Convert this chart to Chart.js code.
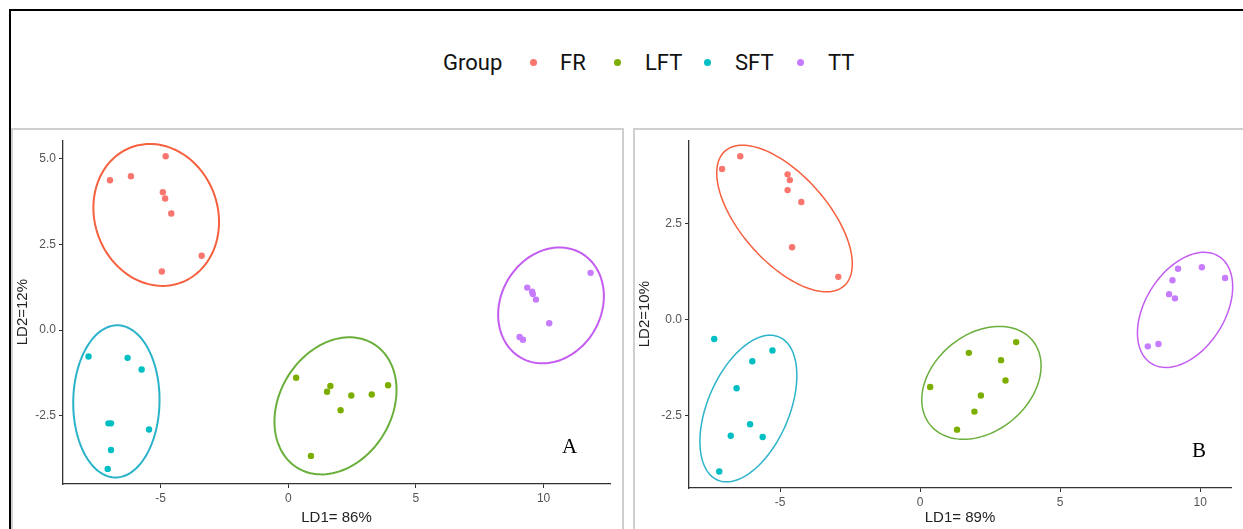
<!DOCTYPE html>
<html>
<head>
<meta charset="utf-8">
<script src="https://cdn.jsdelivr.net/npm/chart.js@4.4.1/dist/chart.umd.min.js"></script>
<style>
  body { margin: 0; background: #fff; width: 1243px; height: 529px; overflow: hidden; position: relative; }
  #frame { position: absolute; left: 9px; top: 9px; width: 1250px; height: 540px; border-left: 2px solid #000; border-top: 2px solid #000; }
  .panel { position: absolute; top: 128px; height: 410px; border: 2px solid #cfcfcf; }
  .leg { position: absolute; font-family: Roboto, "Liberation Sans", sans-serif; font-size: 22px; color: #111; line-height: 26px; top: 50px; }
  .dot { position: absolute; width: 7px; height: 7px; border-radius: 50%; top: 59px; }
  .tag { position: absolute; font-family: "Liberation Serif", "DejaVu Serif", serif; font-size: 21px; color: #000; }
  canvas { position: absolute; }
</style>
</head>
<body>
<div id="frame"></div>
<div class="panel" style="left:11px; width:609px;"></div>
<div class="panel" style="left:633px; width:620px;"></div>

<div class="leg" style="left:443px;">Group</div>
<div class="dot" style="left:530px; background:#F8766D;"></div>
<div class="leg" style="left:560px;">FR</div>
<div class="dot" style="left:614px; background:#7CAE00;"></div>
<div class="leg" style="left:645px;">LFT</div>
<div class="dot" style="left:704px; background:#00BFC4;"></div>
<div class="leg" style="left:735px;">SFT</div>
<div class="dot" style="left:797px; background:#C77CFF;"></div>
<div class="leg" style="left:828px;">TT</div>

<div style="position:absolute; left:13px; top:130px; width:607px; height:399px;"><canvas id="chartA"></canvas></div>
<div style="position:absolute; left:635px; top:130px; width:608px; height:399px;"><canvas id="chartB"></canvas></div>

<div class="tag" style="left:562px; top:434px;">A</div>
<div class="tag" style="left:1192px; top:438px;">B</div>

<script>
// groups and colours
const groups = ['FR', 'LFT', 'SFT', 'TT'];
const pointColors = ['#F8766D', '#7CAE00', '#00BFC4', '#C77CFF'];
const ellipseColors = ['#F6603E', '#6AAF3C', '#2BB3CA', '#C35CF0'];

// panel A (LD1 = 86%, LD2 = 12%)
const aFR_x = [-6.98, -6.16, -4.80, -4.91, -4.82, -4.58, -3.39, -4.95];
const aFR_y = [4.37, 4.49, 5.07, 4.02, 3.84, 3.40, 2.17, 1.71];
const aLFT_x = [0.31, 1.65, 1.52, 2.47, 2.05, 3.27, 3.91, 0.89];
const aLFT_y = [-1.39, -1.63, -1.80, -1.91, -2.34, -1.88, -1.61, -3.67];
const aSFT_x = [-7.82, -6.29, -5.74, -7.04, -6.94, -5.45, -6.94, -7.07];
const aSFT_y = [-0.77, -0.81, -1.15, -2.72, -2.72, -2.90, -3.50, -4.05];
const aTT_x = [11.84, 9.36, 9.55, 9.58, 9.70, 10.22, 9.06, 9.19];
const aTT_y = [1.67, 1.24, 1.12, 1.05, 0.89, 0.20, -0.20, -0.28];
// ellipses: centre x, centre y, half width, half height, tilt (correlation)
const aEllipses = [
  [-5.17, 3.36, 2.46, 2.07, -0.10],
  [1.85, -2.21, 2.39, 2.00, 0.23],
  [-6.73, -2.08, 1.69, 2.22, 0.02],
  [10.29, 0.72, 2.07, 1.69, 0.16]
];
const aXTicks = [-5, 0, 5, 10];
const aYTicks = [-2.5, 0, 2.5, 5];

// panel B (LD1 = 89%, LD2 = 10%)
const bFR_x = [-7.07, -6.42, -4.73, -4.65, -4.73, -4.24, -4.57, -2.92];
const bFR_y = [3.92, 4.25, 3.78, 3.63, 3.37, 3.06, 1.88, 1.11];
const bLFT_x = [3.43, 1.74, 2.89, 3.05, 0.36, 2.17, 1.94, 1.32];
const bLFT_y = [-0.59, -0.87, -1.06, -1.59, -1.76, -1.98, -2.40, -2.87];
const bSFT_x = [-7.35, -5.27, -5.99, -6.55, -6.07, -6.76, -5.62, -7.17];
const bSFT_y = [-0.51, -0.81, -1.09, -1.79, -2.73, -3.03, -3.06, -3.96];
const bTT_x = [9.21, 10.06, 10.89, 9.01, 8.89, 9.10, 8.51, 8.13];
const bTT_y = [1.32, 1.36, 1.08, 1.02, 0.66, 0.55, -0.64, -0.70];
const bEllipses = [
  [-4.84, 2.63, 2.42, 1.91, -0.62],
  [2.19, -1.65, 2.13, 1.47, 0.30],
  [-6.13, -2.32, 1.73, 1.91, 0.45],
  [9.46, 0.25, 1.70, 1.50, 0.40]
];
const bXTicks = [-5, 0, 5, 10];
const bYTicks = [-2.5, 0, 2.5];

function pairs(xs, ys) {
  return xs.map((x, i) => ({ x: x, y: ys[i] }));
}

// draws each group's ellipse through the chart scales
const ellipsePlugin = {
  id: 'ellipses',
  beforeDatasetsDraw(chart, args, opts) {
    const ctx = chart.ctx;
    const xs = chart.scales.x, ys = chart.scales.y;
    opts.list.forEach((e, k) => {
      const phi = Math.asin(e[4]);
      ctx.save();
      ctx.beginPath();
      for (let i = 0; i <= 120; i++) {
        const t = i / 120 * Math.PI * 2;
        const px = xs.getPixelForValue(e[0] + e[2] * Math.cos(t));
        const py = ys.getPixelForValue(e[1] + e[3] * Math.sin(t + phi));
        if (i === 0) ctx.moveTo(px, py); else ctx.lineTo(px, py);
      }
      ctx.closePath();
      ctx.strokeStyle = ellipseColors[k];
      ctx.lineWidth = opts.width;
      ctx.stroke();
      ctx.restore();
    });
  }
};

function makeChart(id, sets, ellipses, xTicks, yTicks, box) {
  const datasets = sets.map((s, i) => ({
    label: groups[i],
    data: pairs(s[0], s[1]),
    backgroundColor: pointColors[i],
    borderColor: pointColors[i],
    pointRadius: 3.2,
    pointBorderWidth: 0
  }));
  const tickFont = { family: 'Liberation Sans', size: 12 };
  const titleFont = { family: 'Liberation Sans', size: 15 };
  return new Chart(document.getElementById(id), {
    type: 'scatter',
    data: { datasets: datasets },
    options: {
      responsive: true,
      maintainAspectRatio: false,
      animation: false,
      layout: { padding: { top: box.top, right: box.right, left: 0, bottom: 0 } },
      plugins: {
        legend: { display: false },
        tooltip: { enabled: false },
        ellipses: { list: ellipses, width: box.lw }
      },
      scales: {
        x: {
          type: 'linear',
          min: box.xmin, max: box.xmax,
          afterBuildTicks: s => { s.ticks = xTicks.map(v => ({ value: v })); },
          afterFit: s => { s.height = box.xh; },
          grid: { drawOnChartArea: false, tickLength: 4, color: '#333', tickWidth: 1 },
          border: { color: '#333', width: 1.3 },
          ticks: { color: '#555', font: tickFont, padding: 3 },
          title: { display: true, text: box.xt, color: '#222', font: titleFont, padding: { top: 2, bottom: 2 } }
        },
        y: {
          type: 'linear',
          min: box.ymin, max: box.ymax,
          afterBuildTicks: s => { s.ticks = yTicks.map(v => ({ value: v })); },
          afterFit: s => { s.width = box.yw; },
          grid: { drawOnChartArea: false, tickLength: 4, color: '#333', tickWidth: 1 },
          border: { color: '#333', width: 1.3 },
          ticks: { color: '#555', font: tickFont, padding: 3, callback: v => v.toFixed(1) },
          title: { display: true, text: box.yt, color: '#222', font: titleFont, padding: { top: 1, bottom: 1 } }
        }
      }
    },
    plugins: [ellipsePlugin]
  });
}

makeChart('chartA',
  [[aFR_x, aFR_y], [aLFT_x, aLFT_y], [aSFT_x, aSFT_y], [aTT_x, aTT_y]],
  aEllipses, aXTicks, aYTicks,
  { top: 10, right: 10, xh: 45, yw: 50, xmin: -8.82, xmax: 12.6, ymin: -4.49, ymax: 5.54,
    xt: 'LD1= 86%', yt: 'LD2=12%', lw: 2 });

makeChart('chartB',
  [[bFR_x, bFR_y], [bLFT_x, bLFT_y], [bSFT_x, bSFT_y], [bTT_x, bTT_y]],
  bEllipses, bXTicks, bYTicks,
  { top: 7, right: 12, xh: 41, yw: 54, xmin: -8.25, xmax: 11.1, ymin: -4.39, ymax: 4.67,
    xt: 'LD1= 89%', yt: 'LD2=10%', lw: 1.5 });
</script>
</body>
</html>
